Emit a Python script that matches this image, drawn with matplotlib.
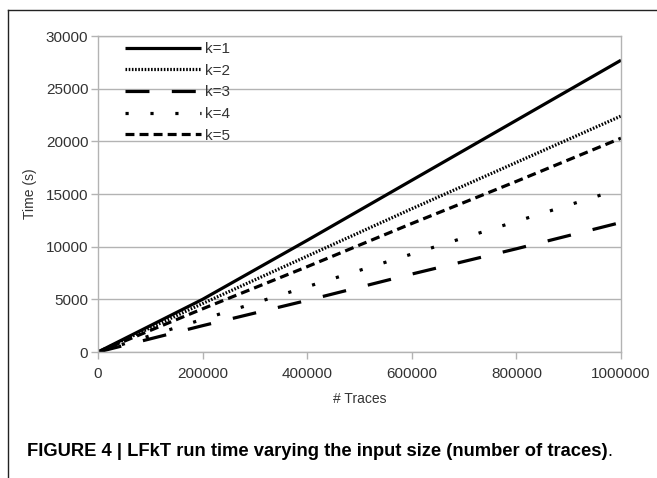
import matplotlib
matplotlib.use("Agg")
import matplotlib.pyplot as plt
from matplotlib.lines import Line2D

traces = [0, 200000, 400000, 600000, 800000, 1000000]
k1 = [0, 5000, 10600, 16300, 22000, 27700]
k2 = [0, 4600, 9100, 13600, 18000, 22400]
k3 = [0, 2500, 4900, 7400, 9800, 12300]
k4 = [0, 3100, 6200, 9300, 12400, 15500]
k5 = [0, 4100, 8100, 12200, 16200, 20300]
labels = ["k=1", "k=2", "k=3", "k=4", "k=5"]
yticks = [0, 5000, 10000, 15000, 20000, 25000, 30000]
xticks = [0, 200000, 400000, 600000, 800000, 1000000]

plt.rcParams['font.family'] = ['Liberation Sans', 'DejaVu Sans']

fig = plt.figure(figsize=(6.57, 4.78), dpi=100)
W, H = 657, 478
ax = fig.add_axes([98 / W, 1 - 352 / H, (621 - 98) / W, (352 - 36) / H])

styles = [
    dict(linestyle='-'),
    dict(linestyle=(0, (0.5, 0.5))),
    dict(linestyle=(0, (7.5, 7))),
    dict(linestyle=(0, (1, 6.8))),
    dict(linestyle=(0, (2.8, 1.6))),
]
series = [k1, k2, k3, k4, k5]
for s, lab, st in zip(series, labels, styles):
    ax.plot(traces, s, color='black', lw=2.3, label=lab, solid_capstyle='butt',
            dash_capstyle='butt', **st)

ax.set_xlim(0, 1000000)
ax.set_ylim(0, 30000)
ax.set_xticks(xticks)
ax.set_yticks(yticks)
ax.set_xticklabels([str(v) for v in xticks])
ax.set_yticklabels([str(v) for v in yticks])
ax.grid(axis='y', color='#b3b3b3', lw=1)
ax.set_axisbelow(True)
for sp in ax.spines.values():
    sp.set_color('#b3b3b3')
    sp.set_linewidth(1)
ax.tick_params(axis='both', colors='#b3b3b3', labelcolor='#333333', labelsize=11,
               length=5, width=1, direction='out')
ax.tick_params(axis='x', pad=6)
ax.tick_params(axis='y', pad=2)
ax.set_xlabel('# Traces', fontsize=10, color='#333333', labelpad=8)
ax.set_ylabel('Time (s)', fontsize=10, color='#333333', labelpad=6)

leg = ax.legend(loc='upper left', bbox_to_anchor=(0.039, 1.0), frameon=False,
                fontsize=11, handlelength=5.0, handletextpad=0.3,
                labelspacing=0.5, borderaxespad=0)
for t in leg.get_texts():
    t.set_color('#333333')

# figure frame (open on right and bottom)
fig.add_artist(Line2D([8 / W, 8 / W], [0, 1 - 10 / H], color='#222222', lw=1,
                      transform=fig.transFigure))
fig.add_artist(Line2D([8 / W, 1], [1 - 10 / H, 1 - 10 / H], color='#222222', lw=1,
                      transform=fig.transFigure))

cap_family = ['Liberation Sans Narrow', 'Liberation Sans', 'DejaVu Sans']
t1 = fig.text(27 / W, 1 - 452 / H, 'FIGURE 4 | LFkT run time varying the input size (number of traces)',
              fontsize=13.2, fontweight='bold', family=cap_family, va='center', ha='left')
fig.canvas.draw()
bb = t1.get_window_extent()
fig.text(bb.x1 / W, 1 - 452 / H, '.', fontsize=13.2, family=cap_family, va='center', ha='left')

fig.savefig('out.png', dpi=100)
